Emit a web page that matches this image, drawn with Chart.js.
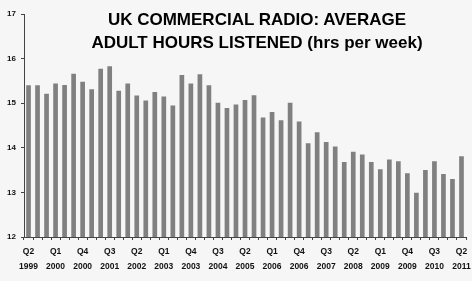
<!DOCTYPE html>
<html>
<head>
<meta charset="utf-8">
<script src="https://cdn.jsdelivr.net/npm/chart.js@4"></script>
<style>
  html, body { margin: 0; padding: 0; background: #f6f6f6; }
  #wrap { position: relative; width: 472px; height: 281px; }
  #title {
    position: absolute; left: 57px; top: 8px; width: 400px;
    text-align: center; font: bold 17px "Liberation Sans", Arial, sans-serif;
    line-height: 23px; color: #000;
  }
</style>
</head>
<body>
<div id="wrap">
  <canvas id="myChart" width="472" height="281"></canvas>
  <div id="title">UK COMMERCIAL RADIO: AVERAGE<br>ADULT HOURS LISTENED (hrs per week)</div>
</div>
<script>
const quarters = [
  'Q2 1999', 'Q3 1999', 'Q4 1999',
  'Q1 2000', 'Q2 2000', 'Q3 2000', 'Q4 2000',
  'Q1 2001', 'Q2 2001', 'Q3 2001', 'Q4 2001',
  'Q1 2002', 'Q2 2002', 'Q3 2002', 'Q4 2002',
  'Q1 2003', 'Q2 2003', 'Q3 2003', 'Q4 2003',
  'Q1 2004', 'Q2 2004', 'Q3 2004', 'Q4 2004',
  'Q1 2005', 'Q2 2005', 'Q3 2005', 'Q4 2005',
  'Q1 2006', 'Q2 2006', 'Q3 2006', 'Q4 2006',
  'Q1 2007', 'Q2 2007', 'Q3 2007', 'Q4 2007',
  'Q1 2008', 'Q2 2008', 'Q3 2008', 'Q4 2008',
  'Q1 2009', 'Q2 2009', 'Q3 2009', 'Q4 2009',
  'Q1 2010', 'Q2 2010', 'Q3 2010', 'Q4 2010',
  'Q1 2011', 'Q2 2011'
];
const hoursPerWeek = [
  15.40, 15.40, 15.21,
  15.44, 15.41, 15.66, 15.48,
  15.31, 15.77, 15.83, 15.28,
  15.44, 15.17, 15.06, 15.25,
  15.15, 14.95, 15.63, 15.44,
  15.65, 15.40, 15.01, 14.89,
  14.97, 15.07, 15.18, 14.68,
  14.80, 14.62, 15.01, 14.59,
  14.10, 14.35, 14.13, 14.03,
  13.68, 13.91, 13.85, 13.68,
  13.52, 13.74, 13.70, 13.43,
  12.99, 13.50, 13.70, 13.41,
  13.30, 13.81
];
const yTicks = [12, 13, 14, 15, 16, 17];
const labelEvery = 3;

const fontFamily = '"Liberation Sans", Arial, sans-serif';
const axisColor = '#444';

new Chart('myChart', {
  type: 'bar',
  data: {
    labels: quarters,
    datasets: [{
      data: hoursPerWeek,
      backgroundColor: '#808080',
      borderWidth: 0,
      categoryPercentage: 1,
      barPercentage: 0.52
    }]
  },
  options: {
    responsive: false,
    animation: false,
    layout: { padding: { top: 14, right: 6, left: 0, bottom: 0 } },
    plugins: {
      legend: { display: false },
      tooltip: { enabled: false }
    },
    scales: {
      x: {
        grid: { drawOnChartArea: false, drawTicks: true, tickLength: 3, color: axisColor, offset: true },
        border: { color: axisColor, width: 1 },
        ticks: {
          autoSkip: false,
          maxRotation: 0,
          padding: 5,
          color: '#111',
          font: { family: fontFamily, size: 8.5, weight: 'bold', lineHeight: 1.68 },
          callback: function (value, index) {
            if (index % labelEvery !== 0) return '';
            return quarters[index].split(' ');
          }
        },
        afterFit: function (scale) {
          scale.height = 44;
          scale.paddingLeft = 0;
          scale.paddingRight = 0;
        }
      },
      y: {
        min: yTicks[0],
        max: yTicks[yTicks.length - 1],
        afterBuildTicks: function (scale) {
          scale.ticks = yTicks.map(v => ({ value: v }));
        },
        grid: { drawOnChartArea: false, drawTicks: true, tickLength: 3, color: axisColor },
        border: { color: axisColor, width: 1 },
        ticks: {
          padding: 5,
          color: '#111',
          font: { family: fontFamily, size: 8, weight: 'bold' }
        },
        afterFit: function (scale) {
          scale.width = 24;
        }
      }
    }
  }
});
</script>
</body>
</html>
